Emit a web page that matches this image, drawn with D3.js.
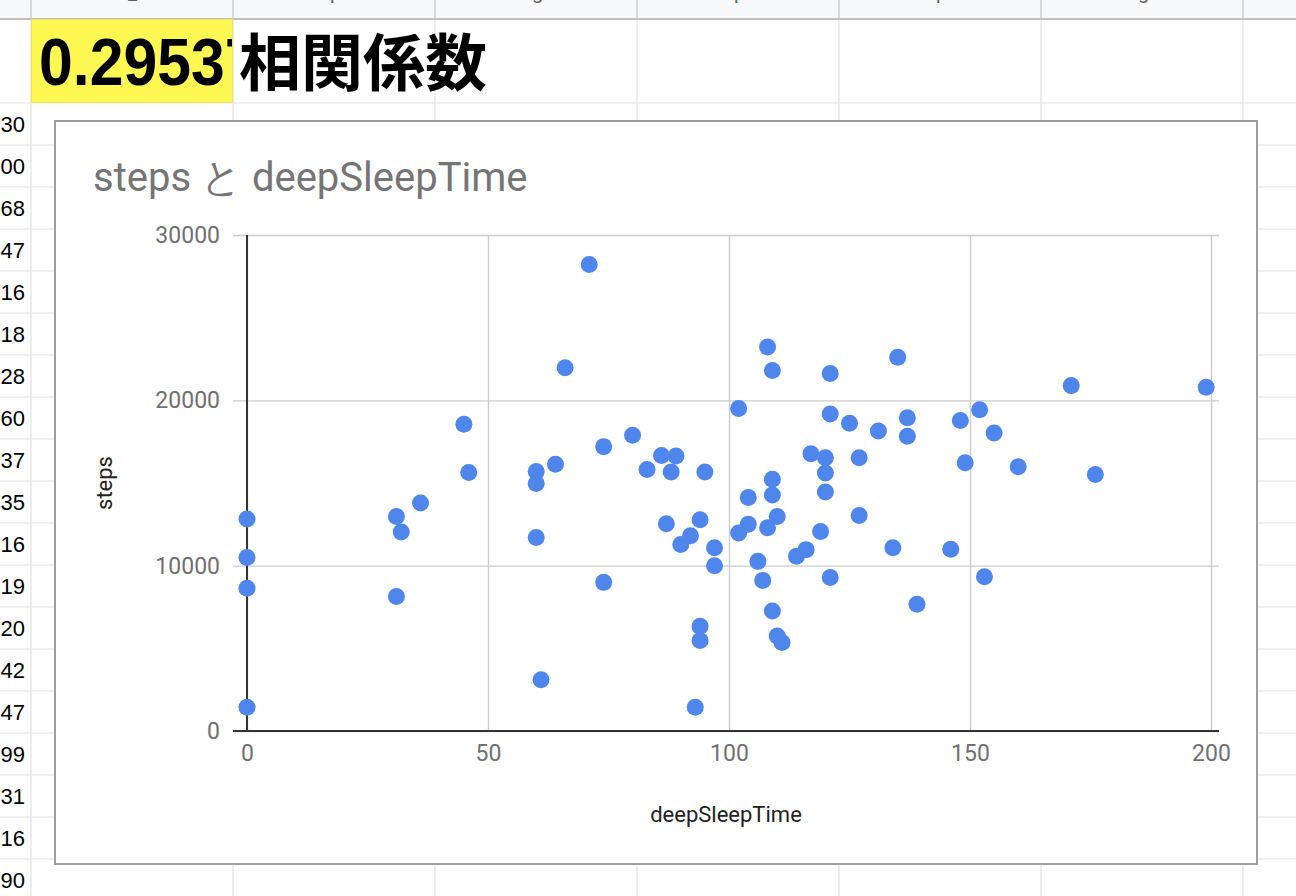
<!DOCTYPE html>
<html>
<head>
<meta charset="utf-8">
<script src="https://cdn.jsdelivr.net/npm/d3@7"></script>
<style>
    html, body { margin: 0; padding: 0; background: #ffffff; overflow: hidden; }
    svg { display: block; }
</style>
</head>
<body>
<svg id="sheet"></svg>
<script>

const width = 1296;
const height = 896;

// Sheet layout (columns are all the same width, rows too)
const sheet = {headerBottom: 19, firstRowBottom: 103, rowHeight: 42,
    firstColumn: 31, columnWidth: 202};

// Chart frame and plot area inside it
const layout = {frame: {left: 55, top: 121, right: 1257, bottom: 864},
    plot: {left: 247, top: 235, right: 1211, bottom: 731},
    gridLeft: 233, gridRight: 1219};

const POINT_RADIUS = 8.5;
const POINT_COLOR = "#4f86ec";

// Texts
const correlationText = "0.29537";
const correlationLabel = "相関係数";
const chartTitle = "steps と deepSleepTime";
const xTitle = "deepSleepTime";
const yTitle = "steps";

// What is left of column A (clipped by the window edge)
const columnAText = ["30", "00", "68", "47", "16", "18", "28", "60", "37", "35",
    "16", "19", "20", "42", "47", "99", "31", "16", "90"];

// Descenders of the header row that peek in at the top
const headerGlyphs = ["_", "p", "g", "p", "p", "g"];

// Axis ticks
const xTicks = [0, 50, 100, 150, 200];
const yTicks = [0, 10000, 20000, 30000];

// deepSleepTime (minutes) for each day
const deepSleepTime = [
    0, 0, 0, 0,
    31, 31, 32, 36, 45, 46,
    60, 60, 60, 61, 64, 66, 71, 74, 74,
    80, 83, 86, 89, 88, 87,
    94, 94, 94, 92, 90, 97, 97, 95, 93,
    102, 102, 108, 108, 109, 109, 109, 109,
    121, 121, 121, 135, 125, 131, 137, 137,
    148, 152, 149, 117, 120, 120, 120, 127, 127,
    104, 104, 110, 110, 119, 116, 114, 134, 146,
    106, 107, 139, 111, 153, 171, 199, 155, 160, 176
];

// steps for the same days
const steps = [
    12820, 10490, 8640, 1440,
    12980, 8130, 12030, 13790, 18560, 15640,
    15700, 14970, 11700, 3100, 16130, 21970, 28210, 17200, 8990,
    17890, 15820, 16670, 16630, 15660, 12540,
    12780, 6330, 5480, 11810, 11280, 11080, 10000, 15660, 1440,
    19510, 11970, 23230, 12290, 21810, 15230, 14280, 7260,
    21620, 19170, 9290, 22600, 18620, 18150, 18950, 17830,
    18780, 19430, 16230, 16770, 16530, 15600, 14460, 16530, 13040,
    14120, 12510, 12980, 5740, 12070, 10970, 10570, 11080, 10990,
    10260, 9110, 7670, 5350, 9330, 20890, 20790, 18030, 15980, 15520
];

let svg;

function makeSheet()
{
    svg = d3.select("#sheet")
        .attr("width", width)
        .attr("height", height);

    // Header row background
    svg.append("rect")
        .attr("x", 0).attr("y", 0)
        .attr("width", width).attr("height", sheet.headerBottom)
        .style("fill", "#f8f9fa");

    let columnX = d3.range(sheet.firstColumn, width, sheet.columnWidth);
    let rowY = d3.range(sheet.firstRowBottom, height, sheet.rowHeight);

    // Cell lines
    svg.selectAll(".rowLine").data(rowY).join("line")
        .attr("x1", 0).attr("x2", width)
        .attr("y1", d => d).attr("y2", d => d)
        .style("stroke", "#e2e2e2").style("stroke-width", 1.2);

    svg.selectAll(".colLine").data(columnX).join("line")
        .attr("x1", d => d).attr("x2", d => d)
        .attr("y1", sheet.headerBottom).attr("y2", height)
        .style("stroke", "#e2e2e2").style("stroke-width", 1.2);

    // Header separators are a bit darker
    svg.selectAll(".headLine").data(columnX).join("line")
        .attr("x1", d => d).attr("x2", d => d)
        .attr("y1", 0).attr("y2", sheet.headerBottom)
        .style("stroke", "#c4c7c5").style("stroke-width", 1.2);

    svg.append("line")
        .attr("x1", 0).attr("x2", width)
        .attr("y1", sheet.headerBottom).attr("y2", sheet.headerBottom)
        .style("stroke", "#c0c0c0").style("stroke-width", 2);

    svg.selectAll(".headGlyph").data(headerGlyphs).join("text")
        .attr("x", (d, i) => sheet.firstColumn + sheet.columnWidth * i + 97)
        .attr("y", -1)
        .style("font-family", "Roboto, sans-serif")
        .style("font-size", "20px")
        .style("fill", "#5f6368")
        .text(d => d);

    // Column A leftovers, right aligned
    svg.selectAll(".colA").data(columnAText).join("text")
        .attr("x", 25)
        .attr("y", (d, i) => sheet.firstRowBottom + sheet.rowHeight * i + 29)
        .attr("text-anchor", "end")
        .style("font-family", "'Liberation Sans', Arial, sans-serif")
        .style("font-size", "22px")
        .style("fill", "#000000")
        .text(d => d);

    // Highlighted correlation cell, text is clipped at the cell edge
    svg.append("clipPath").attr("id", "cellClip")
        .append("rect")
        .attr("x", sheet.firstColumn).attr("y", sheet.headerBottom)
        .attr("width", sheet.columnWidth - 1)
        .attr("height", sheet.firstRowBottom - sheet.headerBottom);

    svg.append("rect")
        .attr("x", sheet.firstColumn + 0.5).attr("y", sheet.headerBottom + 0.5)
        .attr("width", sheet.columnWidth - 1)
        .attr("height", sheet.firstRowBottom - sheet.headerBottom - 1)
        .style("fill", "#fef952")
        .style("stroke", "#ece45a")
        .style("stroke-width", 1);

    // The sheet font is narrower than Liberation, so squeeze it a little
    svg.append("g")
        .attr("clip-path", "url(#cellClip)")
        .append("text")
        .attr("transform", "translate(39,85) scale(0.92,1)")
        .style("font-family", "'Liberation Sans', Arial, sans-serif")
        .style("font-weight", "bold")
        .style("font-size", "66px")
        .style("fill", "#000000")
        .text(correlationText);

    svg.append("text")
        .attr("x", 239).attr("y", 86)
        .style("font-family", "'Noto Sans CJK JP', sans-serif")
        .style("font-weight", "bold")
        .style("font-size", "62px")
        .style("fill", "#000000")
        .text(correlationLabel);
}

function makeChart()
{
    let f = layout.frame;
    let p = layout.plot;

    // Chart frame
    svg.append("rect")
        .attr("x", f.left).attr("y", f.top)
        .attr("width", f.right - f.left).attr("height", f.bottom - f.top)
        .style("fill", "#ffffff")
        .style("stroke", "#9e9e9e")
        .style("stroke-width", 2);

    svg.append("text")
        .attr("x", 93).attr("y", 191)
        .style("font-family", "Roboto, sans-serif")
        .style("font-size", "40px")
        .style("fill", "#757575")
        .text(chartTitle);

    let x = d3.scaleLinear().domain([0, 200]).range([p.left, p.right]);
    let y = d3.scaleLinear().domain([0, 30000]).range([p.bottom, p.top]);

    // Vertical gridlines + x tick labels
    let xAxis = svg.append("g")
        .attr("transform", "translate(0," + p.bottom + ")")
        .call(d3.axisBottom(x).tickValues(xTicks).tickFormat(d3.format("d"))
            .tickSize(-(p.bottom - p.top)).tickPadding(14));

    // Horizontal gridlines + y tick labels
    let yAxis = svg.append("g")
        .attr("transform", "translate(" + layout.gridLeft + ",0)")
        .call(d3.axisLeft(y).tickValues(yTicks).tickFormat(d3.format("d"))
            .tickSize(-(layout.gridRight - layout.gridLeft)).tickPadding(13));

    [xAxis, yAxis].forEach(a =>
    {
        a.select(".domain").remove();
        a.selectAll(".tick line")
            .style("stroke", "#cccccc")
            .style("stroke-width", 1.4);
        a.selectAll(".tick text")
            .style("font-family", "Roboto, sans-serif")
            .style("font-size", "23px")
            .style("fill", "#707070");
    });

    // Baselines, drawn over the grid
    svg.append("line")
        .attr("x1", x(0)).attr("x2", x(0))
        .attr("y1", p.top).attr("y2", p.bottom)
        .style("stroke", "#333333").style("stroke-width", 2);

    svg.append("line")
        .attr("x1", layout.gridLeft).attr("x2", layout.gridRight)
        .attr("y1", y(0)).attr("y2", y(0))
        .style("stroke", "#333333").style("stroke-width", 2);

    // Axis titles
    svg.append("text")
        .attr("x", (p.left + p.right) / 2 - 3).attr("y", 822)
        .attr("text-anchor", "middle")
        .style("font-family", "Roboto, sans-serif")
        .style("font-size", "22px")
        .style("fill", "#222222")
        .text(xTitle);

    svg.append("text")
        .attr("transform", "translate(112," + ((p.top + p.bottom) / 2) + ") rotate(-90)")
        .attr("text-anchor", "middle")
        .style("font-family", "Roboto, sans-serif")
        .style("font-size", "22px")
        .style("fill", "#222222")
        .text(yTitle);

    // Points
    svg.selectAll(".dot").data(d3.zip(deepSleepTime, steps)).join("circle")
        .attr("cx", d => x(d[0]))
        .attr("cy", d => y(d[1]))
        .attr("r", POINT_RADIUS)
        .style("fill", POINT_COLOR);
}

makeSheet();
makeChart();

</script>
</body>
</html>
